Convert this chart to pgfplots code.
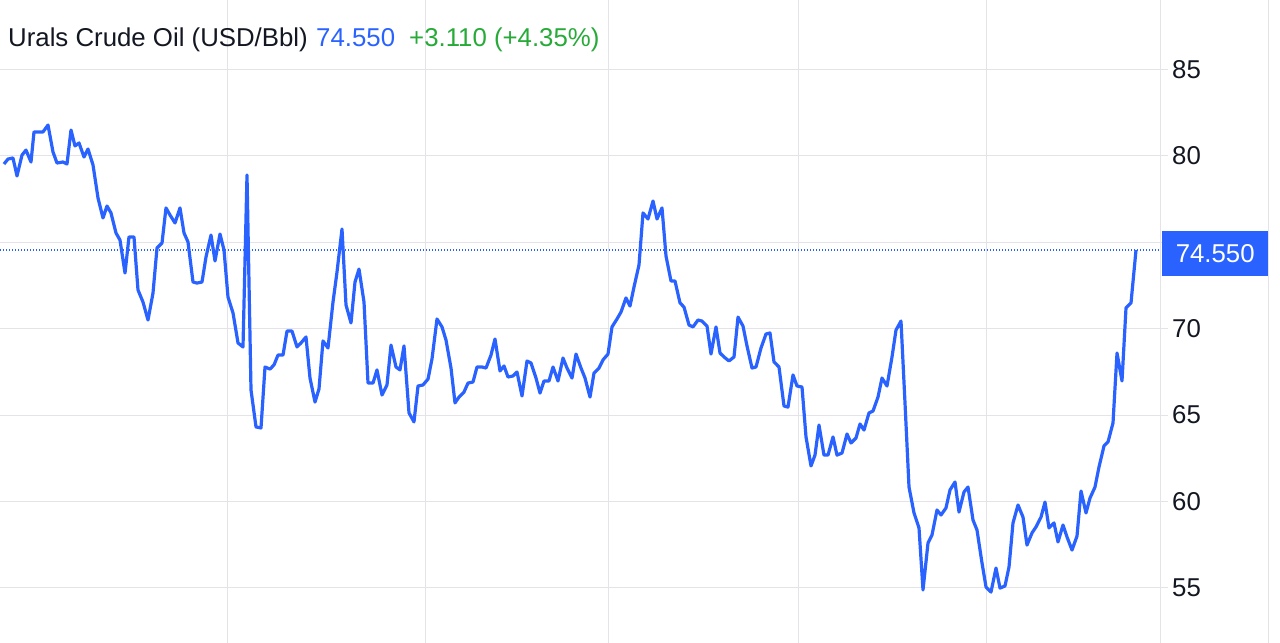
\documentclass[border=0pt]{standalone}
\usepackage{pgfplots}
\pgfplotsset{compat=1.18}
\usepackage{fontspec}
\setmainfont{Liberation Sans}
\definecolor{lineblue}{RGB}{41,98,255}
\definecolor{gridgray}{RGB}{228,228,232}
\definecolor{upgreen}{RGB}{38,170,56}
\definecolor{txt}{RGB}{19,23,34}
\pgfplotstableread{
x v
4 79.53
8 79.82
13 79.88
17 78.84
22 80.05
26 80.34
31 79.65
34 81.39
38 81.39
43 81.39
48 81.79
53 80.23
57 79.59
63 79.65
67 79.53
71 81.50
75 80.58
79 80.75
84 79.94
88 80.40
93 79.48
98 77.57
103 76.41
107 77.10
111 76.70
116 75.54
120 75.13
125 73.22
129 75.31
134 75.31
138 72.24
143 71.54
148 70.50
153 72.06
157 74.67
162 74.96
166 76.99
170 76.58
175 76.12
180 76.99
184 75.54
188 75.02
193 72.70
197 72.64
202 72.70
206 74.15
211 75.42
215 73.92
220 75.48
224 74.55
228 71.83
233 70.91
238 69.17
243 68.94
247 78.90
251 66.45
256 64.31
261 64.25
265 67.78
270 67.66
274 67.90
278 68.47
283 68.47
287 69.86
292 69.86
297 68.94
301 69.17
306 69.52
310 67.14
315 65.75
319 66.51
323 69.29
328 68.88
333 71.54
337 73.28
342 75.77
346 71.37
351 70.33
355 72.70
359 73.45
364 71.54
368 66.85
373 66.85
377 67.61
382 66.16
387 66.74
391 69.05
396 67.78
400 67.61
404 69.00
409 65.12
414 64.60
418 66.68
423 66.74
428 67.08
432 68.24
437 70.56
442 70.10
446 69.34
451 67.72
455 65.70
459 66.04
464 66.33
468 66.85
473 66.91
477 67.78
482 67.78
486 67.72
491 68.47
495 69.40
500 67.55
504 67.84
508 67.20
513 67.26
517 67.49
522 66.10
527 68.13
531 68.01
536 67.14
540 66.27
544 66.97
549 66.97
553 67.78
558 66.97
563 68.30
567 67.72
572 67.14
576 68.53
581 67.72
585 67.14
590 66.04
594 67.43
599 67.72
603 68.19
608 68.53
612 70.10
617 70.56
621 70.96
626 71.78
630 71.31
634 72.41
639 73.69
643 76.70
648 76.35
653 77.39
657 76.35
662 76.99
666 74.21
671 72.76
675 72.76
680 71.49
684 71.25
689 70.21
693 70.10
698 70.50
702 70.44
707 70.15
711 68.53
716 70.10
720 68.59
724 68.36
729 68.13
734 68.36
738 70.67
743 70.15
747 69.00
752 67.72
756 67.78
761 68.88
766 69.69
770 69.75
774 68.07
779 67.78
784 65.52
788 65.46
793 67.32
797 66.68
802 66.62
806 63.73
811 62.05
815 62.68
819 64.42
824 62.68
828 62.68
833 63.73
837 62.68
842 62.80
847 63.90
851 63.38
856 63.67
860 64.48
864 64.13
869 65.12
873 65.23
878 66.04
882 67.14
887 66.68
892 68.36
896 69.92
901 70.44
905 65.70
909 60.83
914 59.33
919 58.46
923 54.87
928 57.59
932 58.05
937 59.50
941 59.21
946 59.62
950 60.66
955 61.12
959 59.38
964 60.54
968 60.83
973 58.92
977 58.34
982 56.43
986 55.04
991 54.75
996 56.14
1000 54.98
1005 55.10
1009 56.20
1013 58.75
1018 59.79
1023 59.09
1027 57.47
1032 58.17
1036 58.52
1041 59.09
1045 59.96
1049 58.46
1054 58.75
1058 57.65
1063 58.63
1067 57.94
1072 57.18
1077 57.99
1081 60.60
1086 59.33
1090 60.19
1095 60.83
1099 61.99
1104 63.21
1108 63.44
1113 64.54
1117 68.59
1122 66.97
1126 71.20
1131 71.49
1136 74.55
}\urals
\begin{document}
\begin{tikzpicture}[x=1bp,y=1bp]
\path[use as bounding box] (0,0) rectangle (1280,643);
\begin{axis}[
  at={(0,0)}, anchor=south west,
  scale only axis, width=1160bp, height=643bp,
  xmin=0, xmax=1160, ymin=51.80, ymax=89.03,
  axis line style={draw=none},
  xtick={227.5,425.7,608.7,798.5,986.7}, xticklabels={},
  xtick style={draw=none},
  ytick={55,60,65,70,75,80,85},
  yticklabels={55,60,65,70,,80,85},
  xmajorgrids, ymajorgrids,
  grid style={gridgray, line width=1bp},
  ytick pos=right, yticklabel pos=right,
  tick align=outside, major tick length=8bp,
  ytick style={gridgray, line width=1bp},
  yticklabel style={font=\fontsize{25.8bp}{30bp}\selectfont, text=txt, anchor=west, inner sep=0pt, xshift=4bp},
  /pgf/number format/assume math mode=true,
  clip=false,
]
\draw[gridgray, line width=1bp] (axis cs:1160,51.80) -- (axis cs:1160,89.03);
\draw[gridgray, line width=1bp] (axis cs:1268,51.80) -- (axis cs:1268,89.03);
\draw[lineblue, line width=1.2bp, dash pattern=on 1.2bp off 1.8bp] (axis cs:0,74.55) -- (axis cs:1160,74.55);
\addplot[lineblue, line width=3.2bp, line join=round, no markers] table[x=x, y=v] {\urals};
\node[fill=lineblue, text=white, anchor=west, minimum height=45bp, minimum width=106bp, inner sep=0pt, font=\fontsize{25.8bp}{30bp}\selectfont] at (axis cs:1162,74.35) {74.550};
\end{axis}
\node[anchor=base west, inner sep=0pt, text=txt, font=\fontsize{25.8bp}{30bp}\selectfont] at (8,596) {Urals Crude Oil (USD/Bbl)};
\node[anchor=base west, inner sep=0pt, text=lineblue, font=\fontsize{25.8bp}{30bp}\selectfont] at (316,596) {74.550};
\node[anchor=base west, inner sep=0pt, text=upgreen, font=\fontsize{25.8bp}{30bp}\selectfont] at (409,596) {+3.110 (+4.35\%)};
\end{tikzpicture}
\end{document}
